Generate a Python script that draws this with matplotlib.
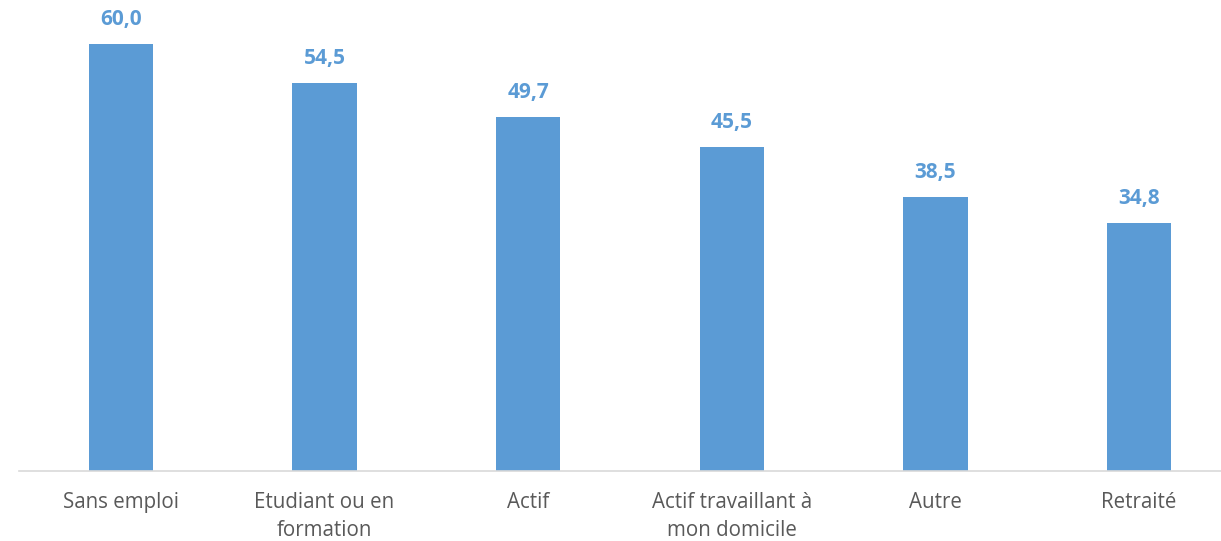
import matplotlib.pyplot as plt

# categories and values (%)
categories = ["Sans emploi", "Etudiant ou en\nformation", "Actif",
              "Actif travaillant à\nmon domicile", "Autre", "Retraité"]
values = [60.0, 54.5, 49.7, 45.5, 38.5, 34.8]

bar_color = "#5B9BD5"
plt.rcParams['font.family'] = ['Open Sans', 'DejaVu Sans']

W, H = 1221, 541
fig = plt.figure(figsize=(W / 100, H / 100), dpi=100)
# axes placed in pixels: baseline at y=470, 60 units = 427 px
base = H - 470.5
ymax = 70
height = 427 / 60 * ymax
ax = fig.add_axes([19 / W, base / H, 1222 / W, height / H])

x = range(len(categories))
bars = ax.bar(x, values, width=0.315, color=bar_color, zorder=2)
ax.set_xlim(-0.5, 5.5)
ax.set_ylim(0, ymax)

for b, v in zip(bars, values):
    ax.annotate(f"{v:.1f}".replace(".", ","),
                (b.get_x() + b.get_width() / 2, v),
                xytext=(0, 13.5), textcoords="offset points",
                ha="center", va="baseline", fontsize=15,
                fontweight="bold", color=bar_color)

ax.set_xticks(list(x))
ax.set_xticklabels(categories, fontsize=14.8, color="#595959", linespacing=1.45)
ax.tick_params(axis="x", length=0, pad=15.5)
ax.set_yticks([])
for s in ["top", "right", "left"]:
    ax.spines[s].set_visible(False)
ax.spines["bottom"].set_color("#D9D9D9")
ax.spines["bottom"].set_linewidth(1.2)

fig.savefig("out.png", dpi=100)
